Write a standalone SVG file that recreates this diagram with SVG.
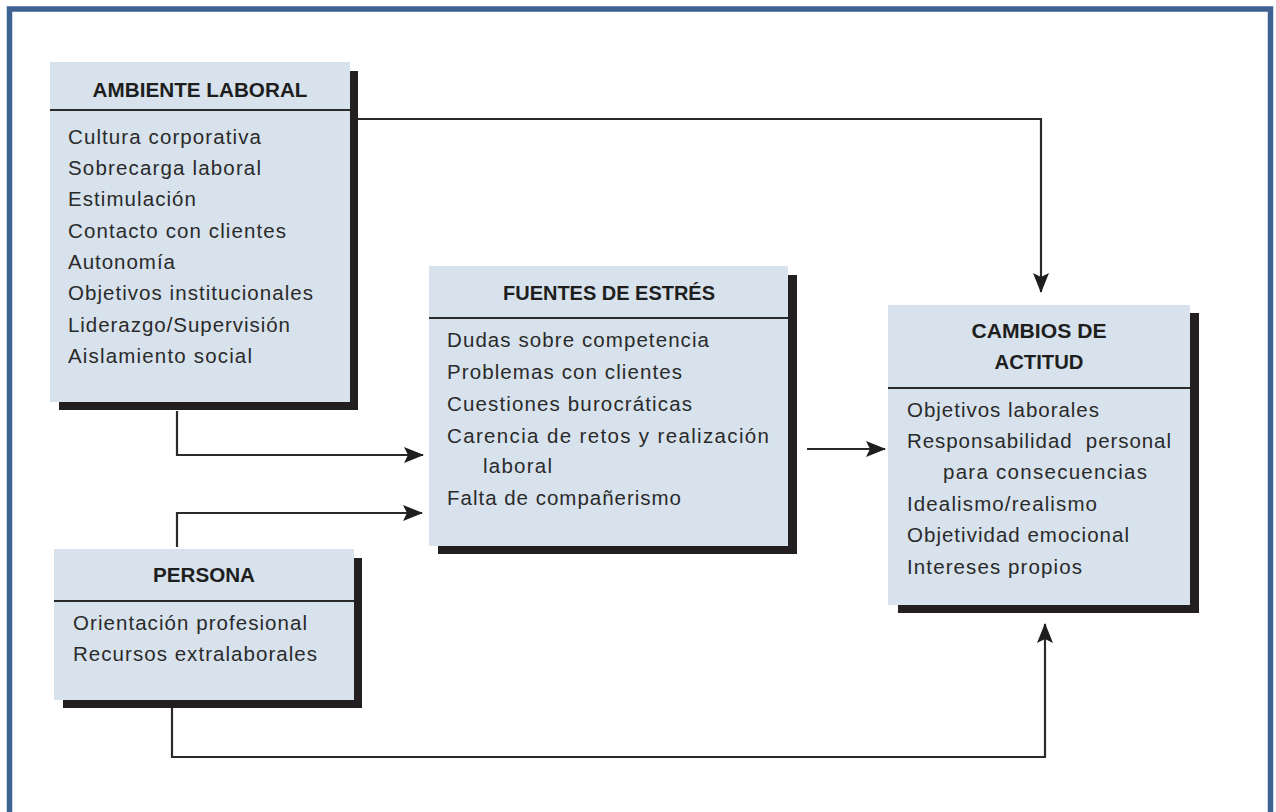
<svg xmlns="http://www.w3.org/2000/svg" width="1276" height="812" viewBox="0 0 1276 812">
<defs>
<style>
.frame{fill:none;stroke:#3d6292;stroke-width:5.5}
.shadow{fill:#231f20}
.box{fill:#d7e2ec}
.div{stroke:#2a2a2a;stroke-width:2}
.hdr{font-family:"Liberation Sans",Arial,sans-serif;font-weight:bold;font-size:21px;fill:#1e1e1e;text-anchor:middle}
.txt{font-family:"Liberation Sans",Arial,sans-serif;font-size:20.5px;fill:#2a2a2a;white-space:pre}
.conn{fill:none;stroke:#2a2a2a;stroke-width:2.2}
</style>
<marker id="arr" viewBox="0 0 20 16" refX="19" refY="8" markerWidth="20" markerHeight="16" markerUnits="userSpaceOnUse" orient="auto">
<path d="M0,0 L20,8 L0,16 L4,8 Z" fill="#1e1e1e"/>
</marker>
</defs>
<rect x="0" y="0" width="1276" height="812" fill="#ffffff"/>
<rect class="frame" x="9.5" y="9" width="1261" height="830"/>

<g id="connectors">
<polyline class="conn" points="358,119 1041,119 1041,292" marker-end="url(#arr)"/>
<polyline class="conn" points="177,411 177,455 423,455" marker-end="url(#arr)"/>
<polyline class="conn" points="177,547 177,513 422,513" marker-end="url(#arr)"/>
<polyline class="conn" points="807,449 885,449" marker-end="url(#arr)"/>
<polyline class="conn" points="172,708 172,757 1045,757 1045,624" marker-end="url(#arr)"/>
</g>

<g id="ambiente">
<rect class="shadow" x="59" y="71" width="299" height="339"/>
<rect class="box" x="50" y="62" width="300" height="340"/>
<line class="div" x1="50" y1="110" x2="350" y2="110"/>
<text class="hdr" x="200" y="97" textLength="215" lengthAdjust="spacingAndGlyphs">AMBIENTE LABORAL</text>
<text class="txt" x="68" y="144" textLength="193" lengthAdjust="spacing">Cultura corporativa</text>
<text class="txt" x="68" y="175" textLength="193" lengthAdjust="spacing">Sobrecarga laboral</text>
<text class="txt" x="68" y="206" textLength="128" lengthAdjust="spacing">Estimulación</text>
<text class="txt" x="68" y="238" textLength="218" lengthAdjust="spacing">Contacto con clientes</text>
<text class="txt" x="68" y="269" textLength="107" lengthAdjust="spacing">Autonomía</text>
<text class="txt" x="68" y="300" textLength="245" lengthAdjust="spacing">Objetivos institucionales</text>
<text class="txt" x="68" y="332" textLength="222" lengthAdjust="spacing">Liderazgo/Supervisión</text>
<text class="txt" x="68" y="363" textLength="184" lengthAdjust="spacing">Aislamiento social</text>
</g>

<g id="fuentes">
<rect class="shadow" x="438" y="275" width="359" height="279"/>
<rect class="box" x="429" y="266" width="359" height="280"/>
<line class="div" x1="429" y1="318" x2="788" y2="318"/>
<text class="hdr" x="609" y="300" textLength="212" lengthAdjust="spacingAndGlyphs">FUENTES DE ESTRÉS</text>
<text class="txt" x="447" y="347" textLength="262" lengthAdjust="spacing">Dudas sobre competencia</text>
<text class="txt" x="447" y="379" textLength="235" lengthAdjust="spacing">Problemas con clientes</text>
<text class="txt" x="447" y="411" textLength="245" lengthAdjust="spacing">Cuestiones burocráticas</text>
<text class="txt" x="447" y="443" textLength="322" lengthAdjust="spacing">Carencia de retos y realización</text>
<text class="txt" x="483" y="473" textLength="69" lengthAdjust="spacing">laboral</text>
<text class="txt" x="447" y="505" textLength="234" lengthAdjust="spacing">Falta de compañerismo</text>
</g>

<g id="cambios">
<rect class="shadow" x="898" y="313" width="301" height="300"/>
<rect class="box" x="888" y="305" width="302" height="300"/>
<line class="div" x1="888" y1="388" x2="1190" y2="388"/>
<text class="hdr" x="1039" y="338" textLength="135" lengthAdjust="spacingAndGlyphs">CAMBIOS DE</text>
<text class="hdr" x="1039" y="369" textLength="89" lengthAdjust="spacingAndGlyphs">ACTITUD</text>
<text class="txt" x="907" y="417" textLength="192" lengthAdjust="spacing">Objetivos laborales</text>
<text class="txt" x="907" y="448" textLength="264" lengthAdjust="spacing" xml:space="preserve">Responsabilidad  personal</text>
<text class="txt" x="943" y="479" textLength="204" lengthAdjust="spacing">para consecuencias</text>
<text class="txt" x="907" y="511" textLength="190" lengthAdjust="spacing">Idealismo/realismo</text>
<text class="txt" x="907" y="542" textLength="222" lengthAdjust="spacing">Objetividad emocional</text>
<text class="txt" x="907" y="574" textLength="175" lengthAdjust="spacing">Intereses propios</text>
</g>

<g id="persona">
<rect class="shadow" x="63" y="558" width="299" height="150"/>
<rect class="box" x="54" y="549" width="300" height="151"/>
<line class="div" x1="54" y1="601" x2="354" y2="601"/>
<text class="hdr" x="204" y="582" textLength="102" lengthAdjust="spacingAndGlyphs">PERSONA</text>
<text class="txt" x="73" y="630" textLength="234" lengthAdjust="spacing">Orientación profesional</text>
<text class="txt" x="73" y="661" textLength="244" lengthAdjust="spacing">Recursos extralaborales</text>
</g>
</svg>
